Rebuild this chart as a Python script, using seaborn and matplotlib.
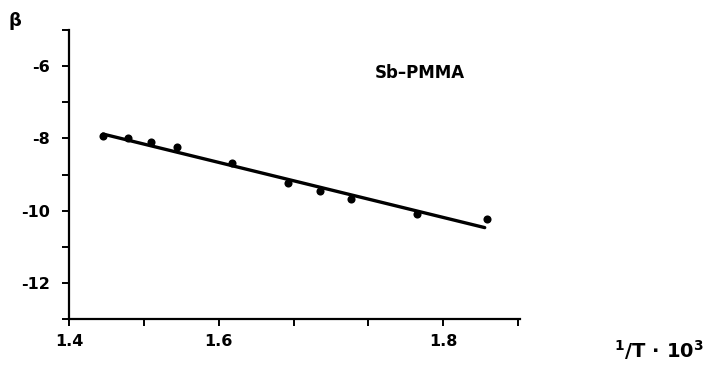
import matplotlib
matplotlib.use("Agg")
import matplotlib.pyplot as plt
import seaborn as sns
import pandas as pd

# ---- data ----
inv_T = [1.497, 1.519, 1.540, 1.563, 1.612, 1.662, 1.690, 1.718, 1.777, 1.839]
beta = [-7.93, -8.00, -8.09, -8.23, -8.69, -9.24, -9.47, -9.67, -10.10, -10.23]
fit_x = [1.497, 1.837]
fit_y = [-7.88, -10.47]
x_ticks = [1.4667, 1.5333, 1.6, 1.6667, 1.7333, 1.8, 1.8667]
x_labels = ["1.4", "", "1.6", "", "", "1.8", ""]
y_ticks = [-13, -12, -11, -10, -9, -8, -7, -6, -5]
y_labels = ["", "-12", "", "-10", "", "-8", "", "-6", ""]
series_label = "Sb\u2013PMMA"
y_title = "\u03b2"
x_title = r"$^{1}$/T$\,\cdot\,$10$^{3}$"

sns.set_theme(style="ticks")
plt.rcParams["font.family"] = ["DejaVu Sans"]
plt.rcParams["axes.unicode_minus"] = False
plt.rcParams["mathtext.default"] = "regular"
plt.rcParams["text.color"] = "black"
plt.rcParams["xtick.color"] = "black"
plt.rcParams["ytick.color"] = "black"

fig = plt.figure(figsize=(7.09, 3.66), dpi=100)
ax = fig.add_axes([0.0973, 0.1284, 0.6361, 0.7896])

df = pd.DataFrame({"x": inv_T, "y": beta})
sns.scatterplot(data=df, x="x", y="y", ax=ax, color="black", s=34,
                edgecolor="black", linewidth=0, zorder=3)
sns.lineplot(x=fit_x, y=fit_y, ax=ax, color="black", linewidth=2.4, zorder=2)

ax.set_xlim(x_ticks[0], 1.8684)
ax.set_ylim(y_ticks[0], y_ticks[-1])
ax.set_xticks(x_ticks)
ax.set_xticklabels(x_labels, fontsize=11.5, fontweight="bold", color="black")
ax.set_yticks(y_ticks)
ax.set_yticklabels(y_labels, fontsize=11.5, fontweight="bold", color="black")
ax.set_xlabel("")
ax.set_ylabel("")
ax.tick_params(axis="both", direction="out", length=5, width=1.4, colors="black")
ax.tick_params(axis="y", pad=9)
ax.tick_params(axis="x", pad=6)
sns.despine(ax=ax)
for s in ("left", "bottom"):
    ax.spines[s].set_linewidth(1.6)
    ax.spines[s].set_color("black")

fig.text(375 / 709, 1 - 73 / 366, series_label, ha="left", va="center",
         fontsize=12, fontweight="bold", color="black")
fig.text(15 / 709, 1 - 21 / 366, y_title, ha="center", va="center",
         fontsize=13, fontweight="bold", color="black")
fig.text(614 / 709, 1 - 358 / 366, x_title, ha="left", va="baseline",
         fontsize=14, fontweight="bold", color="black")

fig.savefig("out.png", dpi=100)
